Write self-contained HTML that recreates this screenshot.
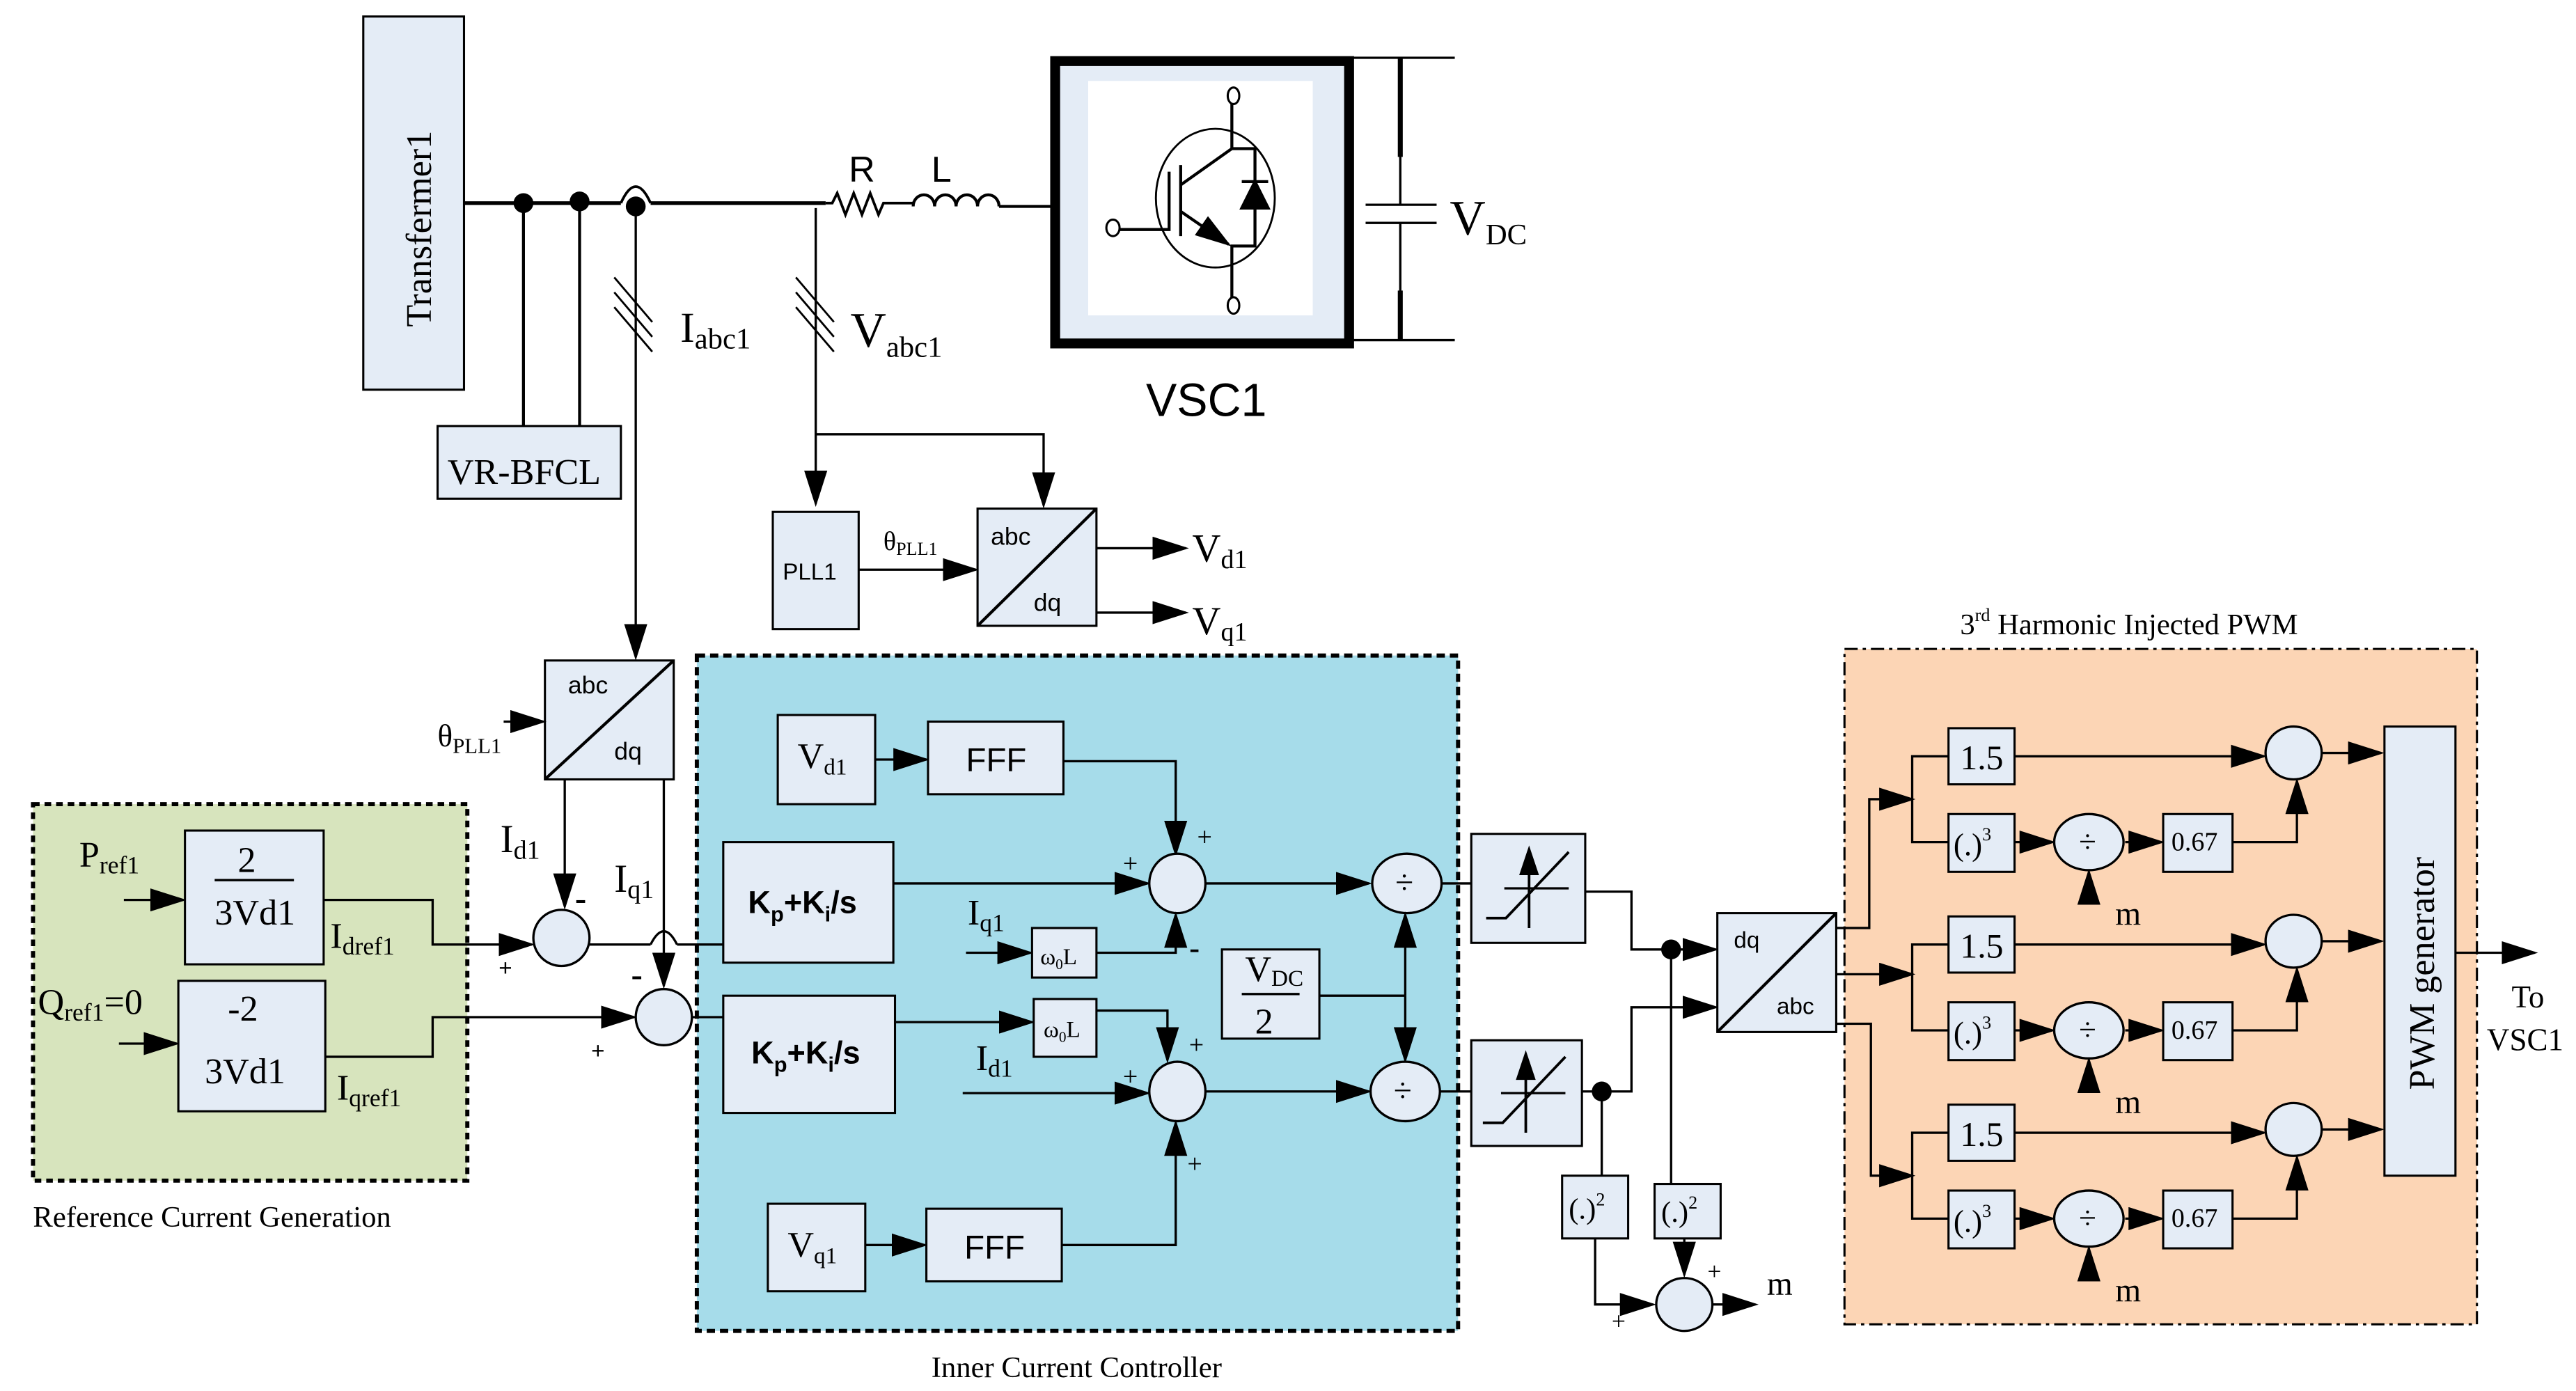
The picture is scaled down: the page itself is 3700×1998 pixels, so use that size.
<!DOCTYPE html>
<html><head><meta charset="utf-8"><style>
html,body{margin:0;padding:0;background:#fff;}
svg{display:block;}
.s{font-family:"Liberation Serif",serif;}
.a{font-family:"Liberation Sans",sans-serif;}
</style></head><body>
<svg width="3700" height="1998" viewBox="0 0 1560 842.4" preserveAspectRatio="none" xmlns="http://www.w3.org/2000/svg">
<defs>
<marker id="ar" markerUnits="userSpaceOnUse" markerWidth="22" markerHeight="14" refX="20" refY="7" orient="auto"><path d="M0,0 L22,7 L0,14 Z" fill="#000"/></marker>
</defs>
<g fill="none" stroke="#000" stroke-width="1.8">
<rect x="20" y="487" width="263" height="228" fill="#d7e4bd" stroke-width="2.5" stroke-dasharray="4,3"/>
<rect x="422" y="397" width="461" height="409" fill="#a6dcea" stroke-width="2.5" stroke-dasharray="5,3"/>
<rect x="1117" y="393" width="383" height="409" fill="#fcd5b5" stroke-width="1.3" stroke-dasharray="8,3,2,3"/>

<rect x="220" y="10" width="61" height="226" fill="#e4ecf6" stroke-width="1.3"/>
<path d="M281,123 H376 M394,123 H500" stroke-width="2.2"/>
<path d="M376,123 Q385,103 394,123" stroke-width="1.6"/>
<circle cx="317" cy="123" r="6" fill="#000" stroke="none"/>
<circle cx="351" cy="122" r="6" fill="#000" stroke="none"/>
<circle cx="385" cy="125" r="6" fill="#000" stroke="none"/>
<path d="M317,123 V258 M351,122 V258"/>
<rect x="265" y="258" width="111" height="44" fill="#e4ecf6" stroke-width="1.3"/>
<path d="M385,125 V398" stroke-width="1.4" marker-end="url(#ar)"/>
<path d="M372,168 L395,195 M372,177 L395,204 M372,186 L395,213" stroke-width="1.2"/>
<path d="M494,126 V305" stroke-width="1.4" marker-end="url(#ar)"/>
<path d="M494,263 H632 V306" stroke-width="1.4" marker-end="url(#ar)"/>
<path d="M482,168 L505,195 M482,177 L505,204 M482,186 L505,213" stroke-width="1.2"/>
<path d="M500,123 L504,123 L507,117 L512,130 L517,117 L522,130 L527,117 L532,130 L535,123 L553,123" stroke-width="1.6"/>
<path d="M553,125 a6.5,7 0 0 1 13,0 a6.5,7 0 0 1 13,0 a6.5,7 0 0 1 13,0 a6.5,7 0 0 1 13,0 M605,125 H640" stroke-width="1.8"/>
<rect x="639" y="37" width="178" height="171" fill="#e4ecf6" stroke-width="6"/>
<rect x="659" y="49" width="136" height="142" fill="#fff" stroke="none"/>
<ellipse cx="736" cy="120" rx="36" ry="42" stroke-width="1.2"/>
<path d="M746,62 V90 H760 V149 H746 V181 M715,112 L746,90 M708,104 V139 H677 M715,100 V143" stroke-width="1.8"/>
<path d="M715,128 L744,148" stroke-width="1.8" marker-end="url(#ar)"/>
<path d="M752,126 L760,110 L768,126 Z" fill="#000" stroke-width="1.8"/>
<path d="M752,110 H768" stroke-width="1.8"/>
<ellipse cx="747" cy="58" rx="3.5" ry="5" fill="#fff" stroke-width="1.3"/>
<ellipse cx="747" cy="185" rx="3.5" ry="5" fill="#fff" stroke-width="1.3"/>
<ellipse cx="674" cy="138" rx="4" ry="5" fill="#fff" stroke-width="1.3"/>
<path d="M818,35 H881 M818,206 H881 M848,35 V124 M848,135 V206 M827,124 H870 M827,135 H870" stroke-width="1.4"/>
<path d="M848,35 V95 M848,176 V206" stroke-width="3"/>

<rect x="468" y="310" width="52" height="71" fill="#e4ecf6" stroke-width="1.3"/>
<path d="M520,345 H591" stroke-width="1.4" marker-end="url(#ar)"/>
<rect x="592" y="308" width="72" height="71" fill="#e4ecf6" stroke-width="1.3"/>
<path d="M592,379 L664,308" stroke-width="1.8"/>
<path d="M664,332 H718" stroke-width="1.4" marker-end="url(#ar)"/>
<path d="M664,371 H718" stroke-width="1.4" marker-end="url(#ar)"/>

<rect x="330" y="400" width="78" height="72" fill="#e4ecf6" stroke-width="1.3"/>
<path d="M330,472 L408,400" stroke-width="1.8"/>
<path d="M305,437 H329" stroke-width="1.4" marker-end="url(#ar)"/>
<path d="M342,472 V549" stroke-width="1.4" marker-end="url(#ar)"/>
<path d="M402,472 V597" stroke-width="1.4" marker-end="url(#ar)"/>

<path d="M75,545 H111" stroke-width="1.4" marker-end="url(#ar)"/>
<rect x="112" y="503" width="84" height="81" fill="#e4ecf6" stroke-width="1.3"/>
<path d="M130,533 H178 M126,623 H178" stroke-width="1.4"/>
<path d="M72,632 H107" stroke-width="1.4" marker-end="url(#ar)"/>
<rect x="108" y="594" width="89" height="79" fill="#e4ecf6" stroke-width="1.3"/>
<path d="M196,545 H262 V572 H322" stroke-width="1.4" marker-end="url(#ar)"/>
<path d="M197,640 H262 V616 H384" stroke-width="1.4" marker-end="url(#ar)"/>
<ellipse cx="340" cy="568" rx="17" ry="17" fill="#e4ecf6" stroke-width="1.4"/>
<ellipse cx="402" cy="616" rx="17" ry="17" fill="#e4ecf6" stroke-width="1.4"/>
<path d="M357,572 H394 M410,572 H438" stroke-width="1.4"/>
<path d="M394,572 Q402,556 410,572" stroke-width="1.4"/>
<path d="M419,616 H438" stroke-width="1.4"/>

<rect x="471" y="433" width="59" height="54" fill="#e4ecf6" stroke-width="1.3"/>
<path d="M530,460 H561" stroke-width="1.4" marker-end="url(#ar)"/>
<rect x="562" y="437" width="82" height="44" fill="#e4ecf6" stroke-width="1.3"/>
<path d="M644,461 H712 V517" stroke-width="1.4" marker-end="url(#ar)"/>
<rect x="438" y="510" width="103" height="73" fill="#e4ecf6" stroke-width="1.3"/>
<path d="M541,535 H695" stroke-width="1.4" marker-end="url(#ar)"/>
<ellipse cx="713" cy="535" rx="17" ry="18" fill="#e4ecf6" stroke-width="1.4"/>
<path d="M585,577 H624" stroke-width="1.4" marker-end="url(#ar)"/>
<rect x="625" y="562" width="39" height="30" fill="#e4ecf6" stroke-width="1.3"/>
<path d="M664,577 H712 V554" stroke-width="1.4" marker-end="url(#ar)"/>
<path d="M730,535 H829" stroke-width="1.4" marker-end="url(#ar)"/>
<ellipse cx="852" cy="535" rx="21" ry="18" fill="#e4ecf6" stroke-width="1.4"/>
<rect x="740" y="575" width="59" height="54" fill="#e4ecf6" stroke-width="1.3"/>
<path d="M752,602 H787" stroke-width="1.4"/>
<path d="M799,603 H851" stroke-width="1.4"/>
<path d="M851,603 V554" stroke-width="1.4" marker-end="url(#ar)"/>
<path d="M851,603 V642" stroke-width="1.4" marker-end="url(#ar)"/>
<rect x="438" y="603" width="104" height="71" fill="#e4ecf6" stroke-width="1.3"/>
<path d="M542,619 H625" stroke-width="1.4" marker-end="url(#ar)"/>
<rect x="626" y="605" width="38" height="35" fill="#e4ecf6" stroke-width="1.3"/>
<path d="M664,612 H707 V642" stroke-width="1.4" marker-end="url(#ar)"/>
<path d="M583,662 H695" stroke-width="1.4" marker-end="url(#ar)"/>
<ellipse cx="713" cy="661" rx="17" ry="18" fill="#e4ecf6" stroke-width="1.4"/>
<rect x="465" y="729" width="59" height="53" fill="#e4ecf6" stroke-width="1.3"/>
<path d="M524,754 H560" stroke-width="1.4" marker-end="url(#ar)"/>
<rect x="561" y="732" width="82" height="44" fill="#e4ecf6" stroke-width="1.3"/>
<path d="M643,754 H712 V680" stroke-width="1.4" marker-end="url(#ar)"/>
<path d="M730,661 H829" stroke-width="1.4" marker-end="url(#ar)"/>
<ellipse cx="851" cy="661" rx="21" ry="18" fill="#e4ecf6" stroke-width="1.4"/>

<path d="M873,535 H891 M872,661 H891" stroke-width="1.4"/>
<rect x="891" y="505" width="69" height="66" fill="#e4ecf6" stroke-width="1.3"/>
<path d="M900,556 H912 L950,516 M926,562 V516" stroke-width="1.6"/>
<path d="M920,530 L926,512 L932,530 Z" fill="#000" stroke="none"/>
<path d="M911,538 H950" stroke-width="1.4"/>
<rect x="891" y="630" width="67" height="64" fill="#e4ecf6" stroke-width="1.3"/>
<path d="M898,680 H910 L948,640 M924,686 V640" stroke-width="1.6"/>
<path d="M918,654 L924,636 L930,654 Z" fill="#000" stroke="none"/>
<path d="M909,662 H948" stroke-width="1.4"/>
<path d="M960,540 H988 V575 H1039" stroke-width="1.4" marker-end="url(#ar)"/>
<path d="M958,661 H988 V610 H1039" stroke-width="1.4" marker-end="url(#ar)"/>
<circle cx="1012" cy="575" r="6" fill="#000" stroke="none"/>
<circle cx="970" cy="661" r="6" fill="#000" stroke="none"/>
<path d="M1012,575 V717 M970,661 V712" stroke-width="1.4"/>
<rect x="946" y="712" width="40" height="38" fill="#e4ecf6" stroke-width="1.3"/>
<rect x="1002" y="717" width="40" height="33" fill="#e4ecf6" stroke-width="1.3"/>
<path d="M966,750 V790 H1001" stroke-width="1.4" marker-end="url(#ar)"/>
<path d="M1020,750 V772" stroke-width="1.4" marker-end="url(#ar)"/>
<ellipse cx="1020" cy="790" rx="17" ry="16" fill="#e4ecf6" stroke-width="1.4"/>
<path d="M1037,790 H1063" stroke-width="1.4" marker-end="url(#ar)"/>
<rect x="1040" y="553" width="72" height="72" fill="#e4ecf6" stroke-width="1.3"/>
<path d="M1040,625 L1112,553" stroke-width="1.8"/>

<path d="M1112,562 H1132 V484 H1158" stroke-width="1.4" marker-end="url(#ar)"/>
<path d="M1112,590 H1158" stroke-width="1.4" marker-end="url(#ar)"/>
<path d="M1112,620 H1133 V712 H1158" stroke-width="1.4" marker-end="url(#ar)"/>
<g id="ph">
<path d="M1180,458 H1158 V510 H1180" stroke-width="1.4"/>
<rect x="1180" y="441" width="40" height="34" fill="#e4ecf6" stroke-width="1.3"/>
<path d="M1220,458 H1371" stroke-width="1.4" marker-end="url(#ar)"/>
<ellipse cx="1389" cy="456" rx="17" ry="16" fill="#e4ecf6" stroke-width="1.4"/>
<path d="M1406,456 H1442" stroke-width="1.4" marker-end="url(#ar)"/>
<rect x="1180" y="493" width="40" height="35" fill="#e4ecf6" stroke-width="1.3"/>
<path d="M1220,510 H1243" stroke-width="1.4" marker-end="url(#ar)"/>
<ellipse cx="1265" cy="510" rx="21" ry="17" fill="#e4ecf6" stroke-width="1.4"/>
<path d="M1265,547 V528" stroke-width="1.4" marker-end="url(#ar)"/>
<path d="M1287,510 H1309" stroke-width="1.4" marker-end="url(#ar)"/>
<rect x="1310" y="493" width="42" height="35" fill="#e4ecf6" stroke-width="1.3"/>
<path d="M1352,510 H1391 V473" stroke-width="1.4" marker-end="url(#ar)"/>
</g>
<use href="#ph" y="114"/>
<use href="#ph" y="228"/>
<rect x="1444" y="440" width="43" height="272" fill="#e4ecf6" stroke-width="1.3"/>
<path d="M1487,577 H1535" stroke-width="1.4" marker-end="url(#ar)"/>
</g>

<g fill="#000">
<text class="s" font-size="22" transform="translate(261,198) rotate(-90)">Transfermer1</text>
<text class="s" font-size="22" x="271" y="293">VR-BFCL</text>
<text class="s" font-size="26" x="412" y="207">I<tspan font-size="18" dy="4">abc1</tspan></text>
<text class="s" font-size="30" x="515" y="210">V<tspan font-size="18" dy="6">abc1</tspan></text>
<text class="a" font-size="22" x="514" y="110">R</text>
<text class="a" font-size="22" x="564" y="110">L</text>
<text class="a" font-size="28" x="694" y="252">VSC1</text>
<text class="s" font-size="30" x="878" y="142">V<tspan font-size="18" dy="6">DC</tspan></text>
<text class="a" font-size="14" x="474" y="351">PLL1</text>
<text class="s" font-size="16" x="535" y="333">θ<tspan font-size="11" dy="3">PLL1</tspan></text>
<text class="a" font-size="15" x="600" y="330">abc</text>
<text class="a" font-size="15" x="626" y="370">dq</text>
<text class="s" font-size="24" x="722" y="340">V<tspan font-size="16" dy="4">d1</tspan></text>
<text class="s" font-size="24" x="722" y="384">V<tspan font-size="16" dy="4">q1</tspan></text>
<text class="a" font-size="15" x="344" y="420">abc</text>
<text class="a" font-size="15" x="372" y="460">dq</text>
<text class="s" font-size="19" x="265" y="452">θ<tspan font-size="13" dy="4">PLL1</tspan></text>
<text class="s" font-size="24" x="303" y="516">I<tspan font-size="16" dy="4">d1</tspan></text>
<text class="s" font-size="24" x="372" y="540">I<tspan font-size="16" dy="4">q1</tspan></text>
<text class="a" font-size="22" x="348" y="552">-</text>
<text class="a" font-size="22" x="382" y="598">-</text>
<text class="a" font-size="14" x="302" y="591">+</text>
<text class="a" font-size="14" x="358" y="641">+</text>
<text class="s" font-size="22" x="48" y="525">P<tspan font-size="15" dy="4">ref1</tspan></text>
<text class="s" font-size="22" x="144" y="528">2</text>
<text class="s" font-size="22" x="130" y="560">3Vd1</text>
<text class="s" font-size="22" x="200" y="574">I<tspan font-size="15" dy="4">dref1</tspan></text>
<text class="s" font-size="22" x="23" y="614">Q<tspan font-size="15" dy="4">ref1</tspan><tspan dy="-4">=0</tspan></text>
<text class="s" font-size="22" x="138" y="618">-2</text>
<text class="s" font-size="22" x="124" y="656">3Vd1</text>
<text class="s" font-size="22" x="204" y="666">I<tspan font-size="15" dy="4">qref1</tspan></text>
<text class="s" font-size="18" x="20" y="743">Reference Current Generation</text>
<text class="s" font-size="18" x="564" y="834">Inner Current Controller</text>
<text class="s" font-size="22" x="483" y="465">V<tspan font-size="14" dy="4">d1</tspan></text>
<text class="a" font-size="20" x="585" y="467">FFF</text>
<text class="s" font-size="22" x="477" y="761">V<tspan font-size="14" dy="4">q1</tspan></text>
<text class="a" font-size="20" x="584" y="762">FFF</text>
<text class="a" font-size="19" font-weight="bold" x="453" y="553">K<tspan font-size="13" dy="5">p</tspan><tspan dy="-5">+K</tspan><tspan font-size="13" dy="5">i</tspan><tspan dy="-5">/s</tspan></text>
<text class="a" font-size="19" font-weight="bold" x="455" y="644">K<tspan font-size="13" dy="5">p</tspan><tspan dy="-5">+K</tspan><tspan font-size="13" dy="5">i</tspan><tspan dy="-5">/s</tspan></text>
<text class="s" font-size="22" x="586" y="560">I<tspan font-size="15" dy="4">q1</tspan></text>
<text class="s" font-size="22" x="591" y="648">I<tspan font-size="15" dy="4">d1</tspan></text>
<text class="s" font-size="14" x="630" y="584">ω<tspan font-size="9" dy="3">0</tspan><tspan dy="-3">L</tspan></text>
<text class="s" font-size="14" x="632" y="628">ω<tspan font-size="9" dy="3">0</tspan><tspan dy="-3">L</tspan></text>
<text class="s" font-size="16" x="725" y="512">+</text>
<text class="s" font-size="16" x="680" y="528">+</text>
<text class="a" font-size="20" x="720" y="581">-</text>
<text class="s" font-size="16" x="720" y="638">+</text>
<text class="s" font-size="16" x="680" y="657">+</text>
<text class="s" font-size="16" x="719" y="710">+</text>
<text class="s" font-size="22" x="754" y="594">V<tspan font-size="14" dy="3">DC</tspan></text>
<text class="s" font-size="22" x="760" y="626">2</text>
<text class="s" font-size="20" x="845" y="541">÷</text>
<text class="s" font-size="20" x="844" y="667">÷</text>
<text class="a" font-size="14" x="1050" y="574">dq</text>
<text class="a" font-size="14" x="1076" y="614">abc</text>
<text class="s" font-size="18" x="950" y="738">(.)<tspan font-size="11" dy="-8">2</tspan></text>
<text class="s" font-size="18" x="1006" y="740">(.)<tspan font-size="11" dy="-8">2</tspan></text>
<text class="s" font-size="15" x="976" y="805">+</text>
<text class="s" font-size="15" x="1034" y="775">+</text>
<text class="s" font-size="20" x="1070" y="784">m</text>
<text class="s" font-size="18" x="1187" y="384">3<tspan font-size="11" dy="-8">rd</tspan><tspan dy="8"> Harmonic Injected PWM</tspan></text>
<g id="tx">
<text class="s" font-size="21" x="1187" y="466">1.5</text>
<text class="s" font-size="19" x="1183" y="518">(.)<tspan font-size="11" dy="-9">3</tspan></text>
<text class="s" font-size="19" x="1259" y="516">÷</text>
<text class="s" font-size="16" x="1315" y="515">0.67</text>
<text class="s" font-size="20" x="1281" y="560">m</text>
</g>
<use href="#tx" y="114"/>
<use href="#tx" y="228"/>
<text class="s" font-size="22" transform="translate(1474,660) rotate(-90)">PWM generator</text>
<text class="s" font-size="19" x="1521" y="610">To</text>
<text class="s" font-size="19" x="1506" y="636">VSC1</text>
</g>
</svg>
</body></html>
